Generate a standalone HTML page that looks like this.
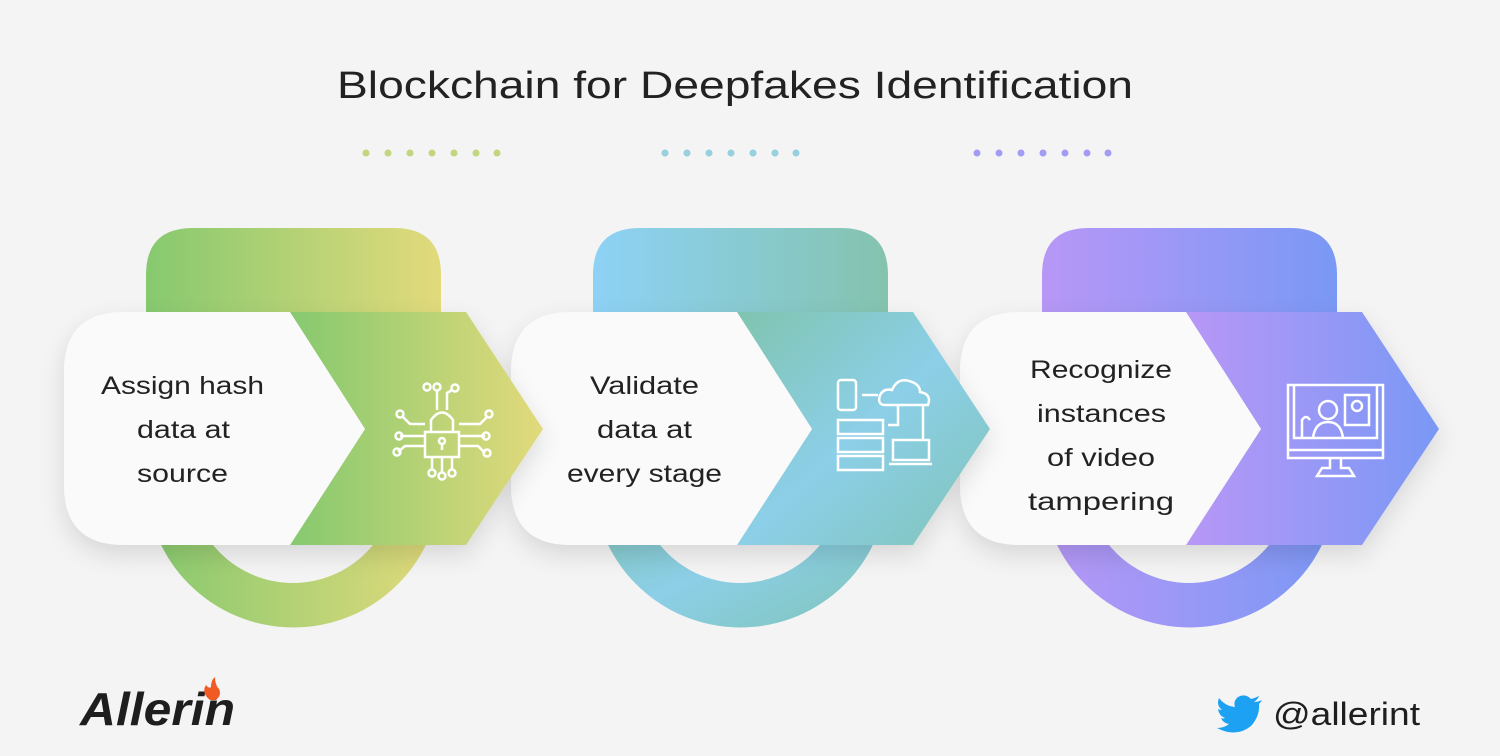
<!DOCTYPE html>
<html><head><meta charset="utf-8"><style>
html,body{margin:0;padding:0;background:#f4f4f4;}
svg{display:block}
text{font-family:"Liberation Sans",sans-serif;}
</style></head><body>
<svg width="1500" height="756" viewBox="0 0 1500 756" xmlns="http://www.w3.org/2000/svg">
<defs>
<linearGradient id="g1" x1="0" x2="1" y1="0" y2="0"><stop offset="0" stop-color="#86c96f"/><stop offset="1" stop-color="#e2da7b"/></linearGradient>
<linearGradient id="g2" x1="0" x2="1" y1="0" y2="0"><stop offset="0" stop-color="#8dd2f6"/><stop offset="1" stop-color="#84c3ae"/></linearGradient>
<linearGradient id="g2b" x1="0" x2="1" y1="0" y2="1"><stop offset="0" stop-color="#80c4b0"/><stop offset="0.5" stop-color="#8ccfe8"/><stop offset="1" stop-color="#80c4b8"/></linearGradient>
<linearGradient id="g3" x1="0" x2="1" y1="0" y2="0"><stop offset="0" stop-color="#b797f6"/><stop offset="1" stop-color="#7a98f5"/></linearGradient>
<filter id="sh" x="-20%" y="-20%" width="140%" height="150%"><feDropShadow dx="0" dy="10" stdDeviation="12" flood-color="#000" flood-opacity="0.12"/></filter>
</defs>
<rect width="1500" height="756" fill="#f4f4f4"/>
<text x="337" y="98" font-size="38" textLength="796" lengthAdjust="spacingAndGlyphs" fill="#222">Blockchain for Deepfakes Identification</text>

<g fill="#c2d67e"><circle cx="366" cy="153" r="3.5"/><circle cx="388" cy="153" r="3.5"/><circle cx="410" cy="153" r="3.5"/><circle cx="432" cy="153" r="3.5"/><circle cx="454" cy="153" r="3.5"/><circle cx="476" cy="153" r="3.5"/><circle cx="497" cy="153" r="3.5"/></g>
<g fill="#96d0df"><circle cx="665" cy="153" r="3.5"/><circle cx="687" cy="153" r="3.5"/><circle cx="709" cy="153" r="3.5"/><circle cx="731" cy="153" r="3.5"/><circle cx="753" cy="153" r="3.5"/><circle cx="775" cy="153" r="3.5"/><circle cx="796" cy="153" r="3.5"/></g>
<g fill="#a39cf5"><circle cx="977" cy="153" r="3.5"/><circle cx="999" cy="153" r="3.5"/><circle cx="1021" cy="153" r="3.5"/><circle cx="1043" cy="153" r="3.5"/><circle cx="1065" cy="153" r="3.5"/><circle cx="1087" cy="153" r="3.5"/><circle cx="1108" cy="153" r="3.5"/></g>

<g>
<path d="M146,330 V275 Q146,228 193,228 H394 Q441,228 441,275 V330 Z" fill="url(#g1)"/>
<path d="M146,480 A147.5,147.5 0 0 0 441,480 H396 A103,103 0 0 1 190,480 Z" fill="url(#g1)"/>
</g>
<g transform="translate(447,0)">
<path d="M146,330 V275 Q146,228 193,228 H394 Q441,228 441,275 V330 Z" fill="url(#g2)"/>
<path d="M146,480 A147.5,147.5 0 0 0 441,480 H396 A103,103 0 0 1 190,480 Z" fill="url(#g2b)"/>
</g>
<g transform="translate(896,0)">
<path d="M146,330 V275 Q146,228 193,228 H394 Q441,228 441,275 V330 Z" fill="url(#g3)"/>
<path d="M146,480 A147.5,147.5 0 0 0 441,480 H396 A103,103 0 0 1 190,480 Z" fill="url(#g3)"/>
</g>

<g filter="url(#sh)" transform="translate(896,0)">
<path d="M290,312 H466 L543,429 L466,545 H290 L365,429 Z" fill="url(#g3)"/>
<path d="M124,312 H290 L365,429 L290,545 H124 Q64,545 64,485 V372 Q64,312 124,312 Z" fill="#fafafa"/>
</g>
<g filter="url(#sh)" transform="translate(447,0)">
<path d="M290,312 H466 L543,429 L466,545 H290 L365,429 Z" fill="url(#g2b)"/>
<path d="M124,312 H290 L365,429 L290,545 H124 Q64,545 64,485 V372 Q64,312 124,312 Z" fill="#fafafa"/>
</g>
<g filter="url(#sh)">
<path d="M290,312 H466 L543,429 L466,545 H290 L365,429 Z" fill="url(#g1)"/>
<path d="M124,312 H290 L365,429 L290,545 H124 Q64,545 64,485 V372 Q64,312 124,312 Z" fill="#fafafa"/>
</g>

<g font-size="25" fill="#222" lengthAdjust="spacingAndGlyphs">
<text x="101" y="394" textLength="163" lengthAdjust="spacingAndGlyphs">Assign hash</text><text x="137" y="438" textLength="93" lengthAdjust="spacingAndGlyphs">data at</text><text x="137" y="482" textLength="91" lengthAdjust="spacingAndGlyphs">source</text>
<text x="590" y="394" textLength="109" lengthAdjust="spacingAndGlyphs">Validate</text><text x="597" y="438" textLength="95" lengthAdjust="spacingAndGlyphs">data at</text><text x="567" y="482" textLength="155" lengthAdjust="spacingAndGlyphs">every stage</text>
<text x="1030" y="378" textLength="142" lengthAdjust="spacingAndGlyphs">Recognize</text><text x="1037" y="422" textLength="129" lengthAdjust="spacingAndGlyphs">instances</text><text x="1047" y="466" textLength="108" lengthAdjust="spacingAndGlyphs">of video</text><text x="1028" y="510" textLength="146" lengthAdjust="spacingAndGlyphs">tampering</text>
</g>

<g stroke="#fff" stroke-width="2.5" fill="none">
<rect x="425" y="432" width="34" height="25"/><path d="M431,432 V420 Q442,405 453,420 V432"/>
<circle cx="442" cy="441" r="3"/><path d="M442,444 V450"/>
<path d="M425,436 H400 M425,446 H405 L398,452 M459,436 H485 M459,446 H478 L485,453 M425,424 H410 L402,416 M459,424 H480 L488,416 M432,457 V470 M442,457 V473 M452,457 V470 M437,410 V390 M447,410 V393 L452,390"/>
<circle cx="399" cy="436" r="3.5"/><circle cx="397" cy="452" r="3.5"/><circle cx="400" cy="414" r="3.5"/><circle cx="486" cy="436" r="3.5"/><circle cx="487" cy="453" r="3.5"/><circle cx="489" cy="414" r="3.5"/>
<circle cx="432" cy="473" r="3.5"/><circle cx="442" cy="476" r="3.5"/><circle cx="452" cy="473" r="3.5"/><circle cx="437" cy="387" r="3.5"/><circle cx="427" cy="387" r="3.5"/><circle cx="455" cy="388" r="3.5"/>
</g>
<g stroke="#fff" stroke-width="2.5" fill="none">
<rect x="838" y="380" width="18" height="30" rx="3"/>
<path d="M862,395 H878"/>
<path d="M885,405 Q877,405 880,395 Q884,388 892,390 Q898,376 912,382 Q920,385 920,392 Q932,394 928,405 Z"/>
<rect x="838" y="420" width="45" height="14"/><rect x="838" y="438" width="45" height="14"/><rect x="838" y="456" width="45" height="14"/>
<path d="M898,405 V425 H888 M923,405 V440"/>
<rect x="893" y="440" width="36" height="20"/><path d="M889,464 H932"/>
</g>
<g stroke="#fff" stroke-width="2.5" fill="none">
<rect x="1288" y="385" width="95" height="65"/>
<path d="M1294,385 V438 H1377 V385 M1288,450 V458 H1383 V450 M1330,458 V468 H1322 L1317,476 H1354 L1349,468 H1341 V458"/>
<circle cx="1328" cy="410" r="9"/><path d="M1313,438 Q1315,422 1328,422 Q1341,422 1343,438"/>
<rect x="1345" y="395" width="24" height="30"/><circle cx="1357" cy="406" r="5"/>
<path d="M1302,438 V420 Q1306,414 1310,420"/>
</g>

<text x="80" y="725" font-size="46" font-style="italic" font-weight="bold" fill="#1e1e1e" textLength="155" lengthAdjust="spacingAndGlyphs">Allerin</text>
<path d="M210,700 Q201,693 206,685 Q209,689 211,687 Q211,680 215,677 Q215,685 219,689 Q222,695 216,700 Z" fill="#f15a24"/>

<path d="M1262,700 Q1258,702 1254,702 Q1258,699 1259,696 Q1255,698 1251,699 Q1245,693 1238,697 Q1233,701 1235,707 Q1225,706 1219,698 Q1216,705 1222,710 Q1220,710 1218,709 Q1219,716 1225,718 Q1223,719 1221,718 Q1223,723 1229,724 Q1224,728 1217,728 Q1236,738 1251,726 Q1260,716 1259,704 Q1261,702 1262,700 Z" fill="#1da1f2"/>
<text x="1273" y="725" font-size="32" fill="#1e1e1e" textLength="147" lengthAdjust="spacingAndGlyphs">@allerint</text>
</svg>
</body></html>
